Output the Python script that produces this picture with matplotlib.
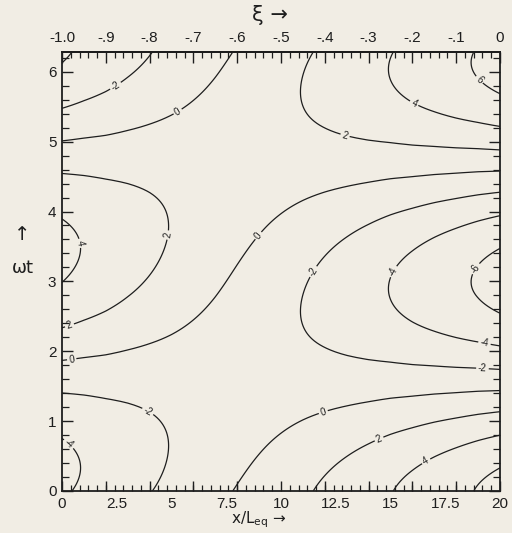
import numpy as np
import matplotlib
matplotlib.use("Agg")
import matplotlib.pyplot as plt

# amplitude and time of maximum (omega t) of the field at each x/L_eq
x_stations = [0, 1, 2, 3, 4, 5, 6, 7, 8, 9, 10, 11, 12, 13, 14, 15, 16, 17, 18, 19, 20]
amplitude = [4.45, 3.92, 3.41, 2.90, 2.41, 1.94, 1.54, 1.24, 1.15, 1.30, 1.63,
             2.05, 2.52, 3.02, 3.53, 4.05, 4.58, 5.11, 5.64, 6.17, 6.71]
phase_max = [3.44, 3.48, 3.52, 3.59, 3.68, 3.81, 4.02, 4.35, 4.81, 5.24, 5.54,
             5.73, 5.85, 5.93, 5.99, 6.04, 6.07, 6.10, 6.12, 6.14, 6.15]
levels = [-6, -4, -2, 0, 2, 4, 6]

x_labels = ["0", "2.5", "5", "7.5", "10", "12.5", "15", "17.5", "20"]
xi_labels = ["-1.0", "-.9", "-.8", "-.7", "-.6", "-.5", "-.4", "-.3", "-.2", "-.1", "0"]

bg = "#f1ede4"
ink = "#1e1e1e"
plt.rcParams["font.family"] = ["Liberation Sans", "DejaVu Sans"]

fig = plt.figure(figsize=(5.12, 5.33), dpi=100, facecolor=bg)
ax = fig.add_axes([62 / 512, 1 - 491 / 533, 438 / 512, 439 / 533], facecolor=bg)

t = np.linspace(0, 2 * np.pi, 241)
X, T = np.meshgrid(np.array(x_stations, float), t)
A = np.array(amplitude)[None, :]
P = np.array(phase_max)[None, :]
U = A * np.cos(T - P)

cs = ax.contour(X, T, U, levels=levels, colors=ink, linewidths=0.9,
                linestyles="solid", negative_linestyles="solid")

# where the numbers sit along the lines
label_spots = [(2.3, 5.87), (5.4, 5.37), (4.9, 3.66), (0.9, 3.55), (8.95, 3.66),
               (0.3, 2.41), (0.45, 1.87), (3.9, 1.13), (0.6, 0.77), (11.9, 1.16),
               (14.4, 0.8), (16.6, 0.44), (19.2, 1.76), (19.3, 2.13), (14.8, 3.2),
               (11.0, 3.23), (18.8, 3.2), (12.9, 5.06), (16.0, 5.5), (19.1, 5.9)]
ax.clabel(cs, fmt="%d", fontsize=7, inline=True, inline_spacing=2,
          manual=label_spots)

ax.set_xlim(0, 20)
ax.set_ylim(0, 2 * np.pi)

ax.set_xticks(np.arange(0, 20.01, 2.5))
ax.set_xticklabels(x_labels)
ax.set_xticks(np.arange(0, 20.01, 0.4), minor=True)
ax.set_yticks(range(7))
ax.set_yticks(np.arange(0, 6.3, 0.2), minor=True)
ax.tick_params(axis="x", which="major", direction="in", length=0, pad=4,
               labelsize=11, colors=ink, top=False)
ax.tick_params(axis="x", which="minor", direction="in", length=4, width=0.9,
               color=ink, top=False)
ax.tick_params(axis="y", which="major", direction="in", length=8, width=1.0,
               pad=4, labelsize=11, colors=ink, right=True)
ax.tick_params(axis="y", which="minor", direction="in", length=5, width=0.9,
               color=ink, right=True)

# longer marks every 2 units along the bottom
bot = ax.secondary_xaxis("bottom")
bot.set_xticks(np.arange(0, 20.01, 2.0))
bot.tick_params(direction="in", length=7, width=1.0, color=ink, labelbottom=False)
bot.spines["bottom"].set_visible(False)

top = ax.secondary_xaxis("top", functions=(lambda x: x / 20 - 1, lambda s: (s + 1) * 20))
top.set_xticks(np.linspace(-1, 0, 11))
top.set_xticklabels(xi_labels)
top.set_xticks(np.arange(-1, 0.001, 0.02), minor=True)
top.tick_params(which="major", direction="in", length=8, width=1.0, pad=5,
                labelsize=11, colors=ink)
top.tick_params(which="minor", direction="in", length=4, width=0.9, color=ink)
top.spines["top"].set_linewidth(1.3)

for s in ax.spines.values():
    s.set_linewidth(1.3)
    s.set_color(ink)

fig.text(0.527, 0.972, "ξ →", ha="center", va="center", fontsize=15, color=ink,
         family=["DejaVu Sans"])
fig.text(0.505, 0.006, "x/L$_{\\mathrm{eq}}$ →", ha="center", va="bottom",
         fontsize=11, color=ink, family=["DejaVu Sans"])
fig.text(0.043, 0.56, "↑", ha="center", va="center", fontsize=14, color=ink,
         family=["DejaVu Sans"])
fig.text(0.045, 0.497, "ωt", ha="center", va="center", fontsize=13, color=ink,
         family=["DejaVu Sans"])

fig.savefig("out.png", dpi=100, facecolor=bg)
